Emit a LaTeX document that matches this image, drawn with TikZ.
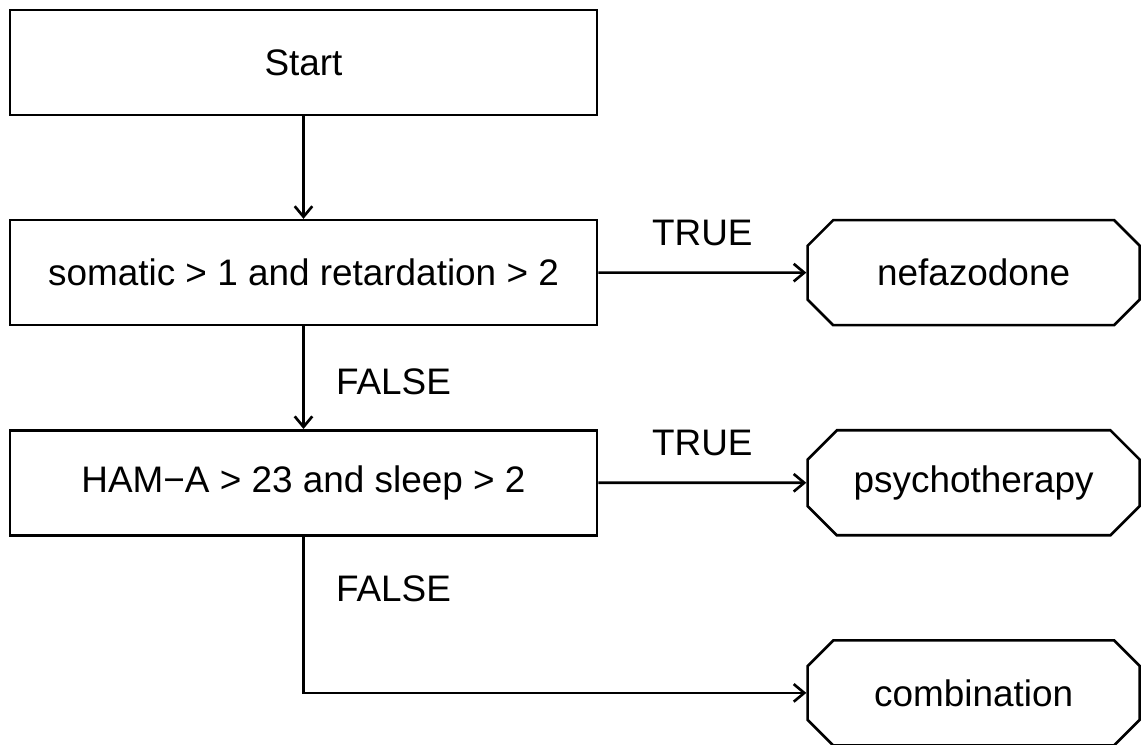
\documentclass[tikz,border=0pt]{standalone}
\usepackage{fontspec}
\setmainfont{Liberation Sans}
\usetikzlibrary{positioning, shapes.misc, arrows.meta}

\begin{document}
\begin{tikzpicture}[>={Straight Barb[length=6pt,width=10pt]}, line width=1.5pt,
    font=\fontsize{21}{25}\selectfont, node distance=2.05cm and 4.16cm,
    testbox/.style={draw, rectangle, minimum width=11.74cm, minimum height=2.1cm},
    endbox/.style={draw, chamfered rectangle, chamfered rectangle angle=45,
      chamfered rectangle xsep=0.52cm, minimum width=6.64cm, minimum height=2.1cm},
    lab/.style={inner sep=0pt}]
             \useasboundingbox (0,0) rectangle (22.88,-14.9);
             %
             \node[testbox] (start) at (6.07,-1.25) {Start};
             \node[testbox, below=of start] (cond1) {somatic > 1 and retardation > 2};
             \node[testbox, below=of cond1] (cond2) {HAM−A > 23 and sleep > 2};
             \node[endbox, right=of cond1] (nefa) {nefazodone};
             \node[endbox, right=of cond2] (psych) {psychotherapy};
             \node[endbox, below=of psych] (combi) {combination};
             %
             \path[->] (start) edge[] (cond1);
             \path[->] (cond1) edge[] node[lab, midway, yshift=0.8cm]{TRUE} (nefa);
             \path[->] (cond1) edge[] (cond2);
             \path[->] (cond2) edge[] node[lab, midway, yshift=0.8cm]{TRUE} (psych);
             \draw[->] (cond2.south) |- (combi.west);
             %
             \node[lab, below right=1.1cm and 1.8cm of cond1.south, anchor=center] (f1) {FALSE};
             \node[lab, below right=1.05cm and 1.8cm of cond2.south, anchor=center] (f2) {FALSE};
\end{tikzpicture}
\end{document}
